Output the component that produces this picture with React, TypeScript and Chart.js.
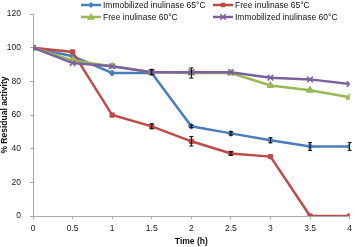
import React, { useEffect, useRef } from "react";
import { Chart, registerables } from "chart.js";

Chart.register(...registerables);

const times = [0, 0.5, 1, 1.5, 2, 2.5, 3, 3.5, 4];
const immob65 = [100, 95, 85, 85, 53.3, 49.1, 45, 41.3, 41.3];
const free65 = [100, 97.5, 60, 53.3, 44.4, 37.2, 35.3, 0, 0];
const free60 = [100, 92.5, 89, 85.5, 85, 85, 77.6, 74.8, 70.6];
const immob60 = [100, 90.9, 89, 85.5, 85.5, 85.5, 82.2, 81.2, 78.4];
const immob65Err = [0, 0, 0, 0, 0.8, 1, 1.5, 2.3, 2.3];
const free65Err = [0, 0, 0, 1.5, 2.8, 1, 0, 0, 0];
const free60Err = [0, 0, 0, 1.5, 3, 0, 0, 0, 0];
const immob60Err = [0, 0, 0, 0, 0, 0, 0, 0, 0];
const yTicks = [0, 20, 40, 60, 80, 100, 120];
const xTicks = [0, 0.5, 1, 1.5, 2, 2.5, 3, 3.5, 4];

const FONT = "'Liberation Sans', Arial, sans-serif";
const FS = 8.5;

const errorBars = {
  id: "errorBars",
  afterDatasetsDraw(chart: any) {
    const ctx = chart.ctx;
    const y = chart.scales.y;
    ctx.save();
    ctx.strokeStyle = "#000";
    ctx.lineWidth = 1;
    chart.data.datasets.forEach((ds: any, i: number) => {
      const meta = chart.getDatasetMeta(i);
      (ds.errors || []).forEach((e: number, j: number) => {
        if (!e) return;
        const pt = meta.data[j];
        const x = pt.x;
        const top = y.getPixelForValue(ds.data[j].y + e);
        const bot = y.getPixelForValue(ds.data[j].y - e);
        ctx.beginPath();
        ctx.moveTo(x, top);
        ctx.lineTo(x, bot);
        ctx.moveTo(x - 2, top);
        ctx.lineTo(x + 2, top);
        ctx.moveTo(x - 2, bot);
        ctx.lineTo(x + 2, bot);
        ctx.stroke();
      });
    });
    ctx.restore();
  },
};

function drawMarker(ctx: any, style: string, x: number, y: number, r: number, color: string) {
  ctx.save();
  ctx.fillStyle = color;
  ctx.strokeStyle = color;
  ctx.lineWidth = 1.5;
  ctx.beginPath();
  if (style === "rectRot") {
    ctx.moveTo(x, y - r);
    ctx.lineTo(x + r, y);
    ctx.lineTo(x, y + r);
    ctx.lineTo(x - r, y);
    ctx.closePath();
    ctx.fill();
  } else if (style === "rect") {
    ctx.rect(x - r * 0.75, y - r * 0.75, r * 1.5, r * 1.5);
    ctx.fill();
  } else if (style === "triangle") {
    ctx.moveTo(x, y - r);
    ctx.lineTo(x + r, y + r * 0.7);
    ctx.lineTo(x - r, y + r * 0.7);
    ctx.closePath();
    ctx.fill();
  } else {
    ctx.moveTo(x - r * 0.7, y - r * 0.7);
    ctx.lineTo(x + r * 0.7, y + r * 0.7);
    ctx.moveTo(x + r * 0.7, y - r * 0.7);
    ctx.lineTo(x - r * 0.7, y + r * 0.7);
    ctx.stroke();
  }
  ctx.restore();
}

const customLegend = {
  id: "customLegend",
  afterDraw(chart: any) {
    const ctx = chart.ctx;
    const items = [
      { i: 0, x: 81, y: 5 },
      { i: 1, x: 213, y: 5 },
      { i: 2, x: 81, y: 17 },
      { i: 3, x: 213, y: 17 },
    ];
    ctx.save();
    items.forEach((it) => {
      const ds = chart.data.datasets[it.i];
      ctx.strokeStyle = ds.borderColor;
      ctx.lineWidth = 2.5;
      ctx.beginPath();
      ctx.moveTo(it.x, it.y);
      ctx.lineTo(it.x + 20, it.y);
      ctx.stroke();
      drawMarker(ctx, ds.pointStyle, it.x + 10, it.y, ds.pointRadius, ds.borderColor);
      ctx.fillStyle = "#111";
      ctx.font = `${FS}px ${FONT}`;
      ctx.textBaseline = "middle";
      ctx.textAlign = "left";
      ctx.fillText(ds.label, it.x + 22, it.y + 0.5);
    });
    ctx.restore();
  },
};

function mk(label: string, vals: number[], errs: number[], color: string, style: string, radius: number, order: number) {
  return {
    label,
    data: times.map((t, i) => ({ x: t, y: vals[i] })),
    errors: errs,
    borderColor: color,
    backgroundColor: color,
    pointBackgroundColor: color,
    pointBorderColor: color,
    borderWidth: 2.5,
    pointStyle: style,
    pointRadius: radius,
    pointBorderWidth: style === "crossRot" ? 1.5 : 1,
    tension: 0,
    order,
  };
}

export default function App() {
  const ref = useRef<HTMLCanvasElement>(null);
  useEffect(() => {
    document.body.style.margin = "0";
    const chart = new Chart(ref.current as HTMLCanvasElement, {
      type: "line",
      data: {
        datasets: [
          mk("Immobilized inulinase 65°C", immob65, immob65Err, "#4a7ebb", "rectRot", 3, 3),
          mk("Free inulinase 65°C", free65, free65Err, "#be4b48", "rect", 3, 2),
          mk("Free inulinase 60°C", free60, free60Err, "#98b954", "triangle", 4, 1),
          mk("Immobilized inulinase 60°C", immob60, immob60Err, "#7d60a0", "crossRot", 4, 0),
        ] as any,
      },
      options: {
        animation: false,
        responsive: false,
        maintainAspectRatio: false,
        layout: { padding: { top: 5, right: 4, left: 0, bottom: 0 } },
        plugins: { legend: { display: false }, tooltip: { enabled: false } },
        scales: {
          x: {
            type: "linear",
            min: 0,
            max: 4,
            afterBuildTicks: (s: any) => {
              s.ticks = xTicks.map((v) => ({ value: v }));
            },
            afterFit: (s: any) => {
              s.height = 31;
            },
            ticks: {
              color: "#222",
              font: { size: FS, family: FONT },
              padding: 5,
              maxRotation: 0,
              autoSkip: false,
              callback: (v: any) => String(v),
            },
            grid: { display: true, drawOnChartArea: false, tickLength: 3, color: "#aaa" },
            border: { color: "#aaa", width: 1 },
            title: { display: true, text: "Time (h)", color: "#111", font: { size: FS, weight: "bold", family: FONT }, padding: { top: 1, bottom: 0 } },
          },
          y: {
            min: 0,
            max: 120,
            afterBuildTicks: (s: any) => {
              s.ticks = yTicks.map((v) => ({ value: v }));
            },
            afterFit: (s: any) => {
              s.width = 33;
            },
            ticks: { color: "#222", font: { size: FS, family: FONT }, padding: 9, callback: (v: any) => String(v) },
            grid: { display: true, drawOnChartArea: false, tickLength: 3, color: "#aaa" },
            border: { color: "#aaa", width: 1 },
            title: { display: true, text: "% Residual activity", color: "#111", font: { size: FS, weight: "bold", family: FONT }, padding: { top: 0, bottom: 0 } },
          },
        },
      } as any,
      plugins: [errorBars, customLegend],
    });
    return () => chart.destroy();
  }, []);
  return <canvas ref={ref} width={357} height={247} style={{ display: "block", width: 357, height: 247 }} />;
}
